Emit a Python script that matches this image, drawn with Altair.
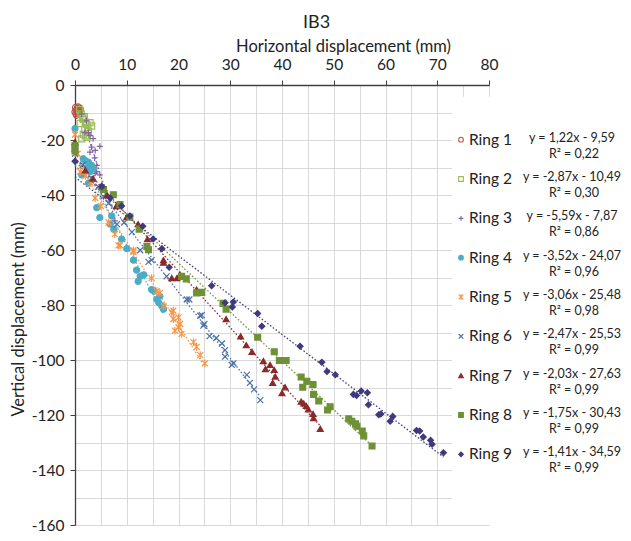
import altair as alt
import pandas as pd

FONT = "Lato"

rings = [f"Ring {i}" for i in range(1, 10)]
colors = ["#C0504D", "#9BBB59", "#8064A2", "#4BACC6", "#F79646",
          "#4A6FA5", "#8B2A2A", "#6E9136", "#3F3A7D"]
fills = ["transparent", "transparent", "transparent", "#4BACC6", "transparent",
         "transparent", "#8B2A2A", "#6E9136", "#3F3A7D"]
shapes = ["circle", "square", "M-1,0H1M0,-1V1", "circle",
          "M-1,-1L1,1M-1,1L1,-1M0,-1.3V1.3", "M-1,-1L1,1M-1,1L1,-1",
          "triangle-up", "square", "diamond"]
sizes = [38, 34, 40, 55, 45, 40, 42, 55, 40]

eq_lines = ["y = 1,22x - 9,59", "y = -2,87x - 10,49", "y = -5,59x - 7,87",
            "y = -3,52x - 24,07", "y = -3,06x - 25,48", "y = -2,47x - 25,53",
            "y = -2,03x - 27,63", "y = -1,75x - 30,43", "y = -1,41x - 34,59"]
r2_lines = ["R² = 0,22", "R² = 0,30", "R² = 0,86", "R² = 0,96", "R² = 0,98",
            "R² = 0,99", "R² = 0,99", "R² = 0,99", "R² = 0,99"]

r1_x = [0.0, 0.1, 0.2, 0.3, 0.4, 0.5, 0.6, 0.7, 0.9, 1.0, 0.3, 0.5]
r1_y = [-9.8, -8.2, -10.5, -9.0, -8.6, -9.4, -8.0, -9.2, -8.4, -8.9, -11.0, -10.2]

r2_x = [0.9, 1.2, 1.5, 1.6, 2.0, 2.3, 2.9, 3.2, 1.9, 1.6, 2.3, 1.3, 2.6, 2.0, 1.0, 2.5, 1.8]
r2_y = [-9.0, -10.5, -12.0, -12.5, -13.5, -14.3, -13.7, -14.9, -16.1, -17.9, -19.0,
        -19.6, -17.0, -18.5, -14.0, -15.5, -11.5]

r3_x = [1.9, 2.6, 2.9, 3.5, 4.8, 3.2, 3.9, 2.9, 4.2, 2.9, 4.2, 3.9, 4.8, 5.2, 5.8,
        6.5, 7.7, 1.3, 2.2, 3.8]
r3_y = [-17.3, -17.3, -18.4, -19.5, -22.3, -22.6, -23.8, -24.4, -29.2, -30.4, -31.5,
        -32.1, -32.7, -36.3, -38.5, -41.0, -49.4, -10.5, -13.0, -26.5]

r4_x = [0.0, 0.0, 1.6, 2.0, 2.6, 3.2, 2.3, 2.9, 3.5, 1.3, 2.6, 4.2, 4.8, 7.1, 6.8,
        7.5, 9.0, 10.0, 11.3, 11.9, 12.6, 13.3, 12.2, 14.8, 15.3, 16.4, 15.8, 16.8,
        16.2, 17.1]
r4_y = [-15.8, -22.0, -26.8, -27.5, -28.0, -29.2, -30.0, -31.5, -30.5, -32.7, -35.7,
        -44.6, -48.2, -47.6, -50.6, -52.5, -56.0, -59.5, -63.7, -67.3, -69.6, -69.0,
        -71.4, -74.4, -75.0, -76.8, -78.0, -80.4, -79.2, -81.5]

r5_x = [0.0, 0.0, 0.5, 1.0, 2.0, 3.0, 3.9, 5.0, 6.5, 7.7, 8.4, 8.7, 11.3, 11.3, 14.8,
        15.8, 16.4, 17.1, 18.7, 19.0, 20.0, 19.0, 20.3, 20.0, 19.3, 20.6, 22.9, 23.5,
        24.2, 25.1]
r5_y = [-18.0, -22.0, -25.0, -31.5, -33.0, -35.5, -41.1, -44.0, -50.0, -54.2, -58.3,
        -58.3, -60.1, -60.7, -70.2, -75.0, -75.6, -80.4, -82.7, -82.1, -84.5, -85.1,
        -86.9, -88.1, -89.3, -90.5, -93.5, -95.2, -98.2, -101.2]

r6_x = [0.0, 1.5, 3.2, 4.5, 5.5, 6.5, 8.1, 9.5, 11.0, 12.6, 14.2, 14.8, 17.7, 21.6,
        22.1, 24.2, 24.5, 25.0, 24.8, 26.0, 27.3, 28.4, 29.0, 29.0, 30.3, 30.6, 33.2,
        33.8, 34.6, 35.8]
r6_y = [-25.0, -29.0, -33.9, -37.0, -40.5, -43.0, -50.6, -50.0, -53.5, -60.1, -64.3,
        -63.7, -69.6, -78.0, -78.0, -83.9, -83.7, -86.9, -87.5, -91.3, -92.0, -94.0,
        -96.4, -98.8, -101.8, -101.2, -105.4, -108.3, -110.7, -114.6]

r7_x = [0.0, 0.0, 2.0, 3.5, 5.2, 6.2, 8.0, 10.0, 12.2, 14.0, 17.1, 17.1, 18.7, 19.7,
        20.3, 23.5, 29.2, 32.0, 33.1, 34.2, 36.4, 37.7, 36.8, 38.5, 38.7, 38.2, 40.6,
        40.0, 43.7, 44.2, 44.7, 45.1, 46.0, 46.1, 47.4]
r7_y = [-20.8, -23.0, -31.0, -34.0, -36.9, -40.0, -44.0, -48.0, -50.6, -56.0, -63.7,
        -64.6, -70.2, -70.2, -69.0, -74.4, -85.1, -91.4, -94.6, -97.0, -100.4, -101.8,
        -103.3, -103.6, -106.0, -108.3, -109.9, -112.0, -115.1, -115.8, -116.7, -117.9,
        -119.6, -121.1, -125.0]

r8_x = [0.0, 0.0, 5.5, 7.4, 8.7, 10.6, 12.4, 14.2, 13.9, 20.6, 21.5, 23.5, 24.5, 28.6,
        29.2, 35.3, 38.5, 39.5, 40.8, 43.7, 44.8, 44.0, 46.0, 46.1, 47.1, 49.3, 48.8,
        52.9, 53.5, 54.2, 54.5, 55.5, 55.8, 57.4]
r8_y = [-22.0, -24.0, -38.0, -39.9, -43.5, -48.0, -52.4, -59.9, -58.7, -69.6, -70.5,
        -75.6, -75.4, -79.4, -81.5, -91.7, -97.0, -100.2, -100.2, -106.2, -107.7,
        -109.9, -108.9, -112.5, -114.9, -117.0, -118.2, -121.4, -122.3, -123.2, -124.1,
        -125.8, -127.6, -131.3]

r9_x = [0.0, 5.2, 6.8, 9.0, 10.6, 13.1, 15.1, 16.8, 18.2, 26.4, 29.0, 30.6, 30.4, 35.3,
        36.1, 43.5, 47.7, 48.7, 50.3, 53.8, 54.4, 55.3, 56.5, 56.7, 58.7, 59.1, 61.4,
        60.9, 66.0, 66.6, 67.3, 68.7, 69.0, 71.2]
r9_y = [-27.7, -36.9, -41.1, -44.0, -47.6, -51.4, -56.0, -59.5, -66.3, -73.0, -79.2,
        -78.9, -80.7, -83.1, -87.7, -95.0, -100.8, -104.2, -105.4, -112.5, -112.9,
        -111.3, -111.9, -116.3, -119.9, -119.6, -120.5, -122.3, -125.6, -125.8, -128.0,
        -129.2, -130.6, -133.7]

all_x = [r1_x, r2_x, r3_x, r4_x, r5_x, r6_x, r7_x, r8_x, r9_x]
all_y = [r1_y, r2_y, r3_y, r4_y, r5_y, r6_y, r7_y, r8_y, r9_y]

rows = []
for name, xs, ys in zip(rings, all_x, all_y):
    for xv, yv in zip(xs, ys):
        rows.append({"ring": name, "x": xv, "y": yv})
df = pd.DataFrame(rows)

leg = pd.DataFrame({"ring": rings, "eq": eq_lines, "r2": r2_lines})
bg = pd.DataFrame({"k": [0]})

color_sc = alt.Scale(domain=rings, range=colors)
fill_sc = alt.Scale(domain=rings, range=fills)
shape_sc = alt.Scale(domain=rings, range=shapes)
size_sc = alt.Scale(domain=rings, range=sizes)

W, H = 414, 440
x_sc = alt.Scale(domain=[0, 80], nice=False)
y_sc = alt.Scale(domain=[-160, 0], nice=False)

# trend lines + grid axes
trend = alt.Chart(df).transform_regression(
    "x", "y", groupby=["ring"]
).mark_line(strokeDash=[1.5, 2], strokeWidth=1.3).encode(
    x=alt.X("x:Q", scale=x_sc,
            axis=alt.Axis(orient="bottom", values=list(range(0, 81, 5)), grid=True,
                          labels=False, ticks=False, domain=False, title=None,
                          gridColor="#d9d9d9", gridWidth=1)),
    y=alt.Y("y:Q", scale=y_sc,
            axis=alt.Axis(orient="right", values=list(range(-160, 1, 10)), grid=True,
                          labels=False, ticks=False, domain=False, title=None,
                          gridColor="#d9d9d9", gridWidth=1)),
    color=alt.Color("ring:N", scale=color_sc, legend=None),
    detail="ring:N",
)

points = alt.Chart(df).mark_point(filled=False, strokeWidth=1.2, opacity=1, fillOpacity=1).encode(
    x=alt.X("x:Q", scale=x_sc,
            axis=alt.Axis(orient="top", values=list(range(0, 81, 10)), grid=False,
                          title="Horizontal displacement (mm)", labelFlush=False,
                          tickSize=5, tickColor="#404040", domainColor="#404040",
                          domainWidth=1.3, labelFontSize=15.5, titleFontSize=16.5,
                          titleFontWeight="normal", labelColor="#222", titleColor="#222",
                          labelPadding=8, titlePadding=3, titleX=268)),
    y=alt.Y("y:Q", scale=y_sc,
            axis=alt.Axis(values=list(range(-160, 1, 20)), grid=False,
                          labelExpr="'' + datum.value",
                          title="Vertical displacement (mm)", labelFlush=False,
                          tickSize=5, tickColor="#404040", domainColor="#404040",
                          domainWidth=1.3, labelFontSize=15.5, titleFontSize=16.5,
                          titleFontWeight="normal", labelColor="#222", titleColor="#222",
                          labelPadding=6, titlePadding=5, titleY=234)),
    color=alt.Color("ring:N", scale=color_sc, legend=None),
    fill=alt.Fill("ring:N", scale=fill_sc, legend=None),
    shape=alt.Shape("ring:N", scale=shape_sc, legend=None),
    size=alt.Size("ring:N", scale=size_sc, legend=None),
)

legend_bg = alt.Chart(bg).mark_rect(fill="white").encode(
    x=alt.value(377), x2=alt.value(548), y=alt.value(12), y2=alt.value(440)
)

leg_y = alt.Y("ring:N", scale=alt.Scale(domain=rings, range=[35, 389]), axis=None)

leg_sym = alt.Chart(leg).mark_point(filled=False, strokeWidth=1.1, opacity=1, fillOpacity=1, size=22).encode(
    x=alt.value(386), y=leg_y,
    color=alt.Color("ring:N", scale=color_sc, legend=None),
    fill=alt.Fill("ring:N", scale=fill_sc, legend=None),
    shape=alt.Shape("ring:N", scale=shape_sc, legend=None),
)

leg_txt = alt.Chart(leg).mark_text(align="left", baseline="middle", fontSize=15.5,
                                   font=FONT, color="#222").encode(
    x=alt.value(394), y=leg_y, text="ring:N"
)

leg_eq = alt.Chart(leg).mark_text(align="center", baseline="middle", fontSize=12.5,
                                  font=FONT, color="#222", dy=-2).encode(
    x=alt.value(497), y=leg_y, text="eq:N"
)

leg_r2 = alt.Chart(leg).mark_text(align="center", baseline="middle", fontSize=12.5,
                                  font=FONT, color="#222", dy=14).encode(
    x=alt.value(499), y=leg_y, text="r2:N"
)

chart = alt.layer(trend, points, legend_bg, leg_sym, leg_txt, leg_eq, leg_r2).resolve_scale(
    x="independent", y="independent"
).properties(
    width=W, height=H,
    autosize=alt.AutoSizeParams(type="none"),
    padding={"left": 67, "top": 77, "right": 134, "bottom": 8},
    title=alt.Title("IB3", fontSize=18, fontWeight="normal", font=FONT,
                    frame="bounds", anchor="middle", color="#222", offset=6),
).configure(font=FONT).configure_view(stroke=None).configure_axis(
    labelFont=FONT, titleFont=FONT
)

chart.save("out.html", embed_options={"renderer": "svg", "actions": False})
